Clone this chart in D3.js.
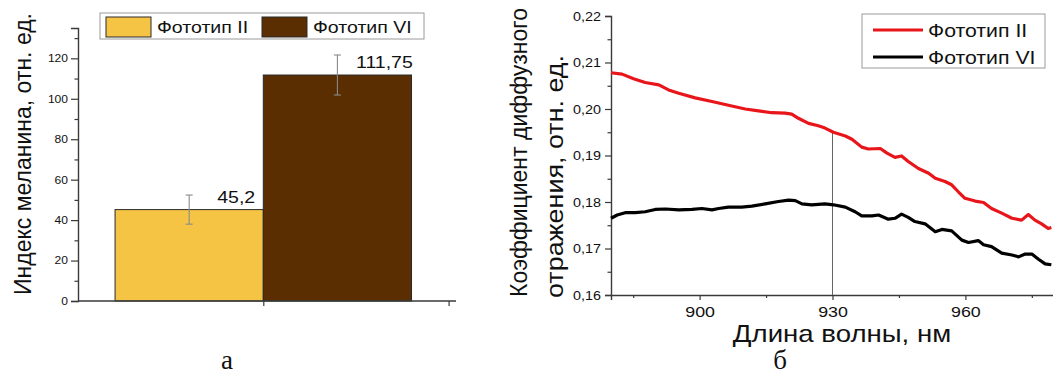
<!DOCTYPE html>
<html>
<head>
<meta charset="utf-8">
<script src="https://cdn.jsdelivr.net/npm/d3@7"></script>
<style>
  body { margin: 0; background: #fff; }
  svg { display: block; }
  text { font-family: "Liberation Sans", Arial, sans-serif; fill: #111; }
  text.letter { font-family: "Liberation Serif", "Times New Roman", serif; }
</style>
</head>
<body>
<svg id="chart" width="1053" height="376"></svg>
<script>
// ---- Panel "а": melanin index by phototype ----
const phototypes = ["Фототип II", "Фототип VI"];
const melaninIndex = [45.2, 111.75];
const melaninError = [7.2, 9.9];
const melaninLabels = ["45,2", "111,75"];
const melaninTicks = [0, 20, 40, 60, 80, 100, 120];
const melaninMinorTicks = [10, 30, 50, 70, 90, 110, 130];
const barColors = ["#f6c444", "#5a2e00"];

// ---- Panel "б": diffuse reflectance spectra ----
const redWavelength = [880.0, 882.5, 885.1, 887.7, 890.8, 893.0, 895.3, 899.0, 902.8, 906.5,
  910.3, 913.3, 916.3, 919.3, 920.8, 922.3, 924.6, 926.8, 928.3, 930.2, 932.9, 934.4, 936.6,
  938.1, 940.8, 942.3, 944.1, 945.6, 947.1, 949.4, 951.7, 953.2, 955.4, 956.9, 958.4, 959.9,
  962.2, 964.1, 965.9, 968.2, 970.5, 972.7, 974.2, 975.7, 977.2, 978.7, 979.4];
const redReflectance = [0.2078, 0.2075, 0.2065, 0.2057, 0.2052, 0.2041, 0.2034, 0.2024, 0.2016,
  0.2008, 0.2000, 0.1996, 0.1992, 0.1991, 0.1989, 0.1980, 0.1969, 0.1964, 0.1959, 0.1950,
  0.1942, 0.1935, 0.1918, 0.1914, 0.1915, 0.1905, 0.1896, 0.1899, 0.1887, 0.1872, 0.1862,
  0.1851, 0.1844, 0.1837, 0.1822, 0.1808, 0.1802, 0.1799, 0.1786, 0.1776, 0.1765, 0.1761,
  0.1773, 0.1761, 0.1753, 0.1743, 0.1745];
const blackWavelength = [880.0, 881.4, 883.2, 885.5, 887.7, 890.0, 892.3, 895.3, 898.3, 900.5,
  902.8, 904.3, 906.5, 909.5, 911.8, 914.8, 917.8, 920.1, 921.6, 923.1, 925.3, 928.3, 930.2,
  932.9, 935.1, 936.6, 938.9, 940.4, 942.6, 944.1, 945.6, 947.1, 948.6, 950.9, 953.2, 954.7,
  956.9, 959.2, 960.7, 962.9, 964.1, 965.9, 968.2, 970.5, 972.0, 973.5, 975.0, 976.5, 978.0, 979.4];
const blackReflectance = [0.1765, 0.1772, 0.1777, 0.1777, 0.1779, 0.1784, 0.1785, 0.1783, 0.1784,
  0.1786, 0.1783, 0.1786, 0.1789, 0.1789, 0.1791, 0.1796, 0.1801, 0.1804, 0.1803, 0.1796,
  0.1794, 0.1796, 0.1794, 0.1789, 0.1779, 0.1770, 0.1770, 0.1772, 0.1763, 0.1765, 0.1774,
  0.1767, 0.1758, 0.1753, 0.1736, 0.1741, 0.1738, 0.1718, 0.1713, 0.1717, 0.1708, 0.1704,
  0.1690, 0.1686, 0.1682, 0.1688, 0.1688, 0.1677, 0.1667, 0.1665];
const seriesNames = ["Фототип II", "Фототип VI"];
const seriesColors = ["#e8161b", "#000000"];
const reflectTicks = [0.16, 0.17, 0.18, 0.19, 0.20, 0.21, 0.22];
const reflectMinorTicks = [0.165, 0.175, 0.185, 0.195, 0.205, 0.215];
const wavelengthTicks = [900, 930, 960];
const wavelengthMinorTicks = [885, 915, 945, 975];
const markerWavelength = 930;

const SX = 1.15;           // horizontal glyph stretch
const AXIS = "#3a3a3a";
const svg = d3.select("#chart");

function styleAxis(g, fontSize) {
  g.select(".domain").attr("stroke", AXIS).attr("stroke-width", 1.4);
  g.selectAll(".tick line").attr("stroke", AXIS).attr("stroke-width", 1.2);
  g.selectAll(".tick text")
    .attr("font-size", fontSize)
    .attr("fill", "#222")
    .attr("font-family", "Liberation Sans, Arial, sans-serif")
    .each(function () {
      const t = d3.select(this);
      const x = +t.attr("x") || 0;
      t.attr("x", x / SX).attr("transform", `scale(${SX},1)`);
    });
}

function stretchedText(parent, x, y, str, size, anchor) {
  return parent.append("text")
    .attr("transform", `translate(${x},${y}) scale(${SX},1)`)
    .attr("text-anchor", anchor || "start")
    .attr("font-size", size)
    .text(str);
}

// ================= Panel а =================
const gA = svg.append("g");
const xA = d3.scaleLinear().domain([0, 2.04]).range([78, 456]);
const yA = d3.scaleLinear().domain([0, 135]).range([301, 28]);

// bars: two adjacent bars, each 0.8 wide, grouped around x = 1
gA.selectAll("rect.bar").data(melaninIndex).enter().append("rect")
  .attr("class", "bar")
  .attr("x", (d, i) => xA(0.2 + i * 0.8))
  .attr("width", xA(0.8) - xA(0))
  .attr("y", d => yA(d))
  .attr("height", d => yA(0) - yA(d))
  .attr("fill", (d, i) => barColors[i])
  .attr("stroke", "#2a2a2a")
  .attr("stroke-width", 1);

// error bars
const errG = gA.append("g").attr("stroke", "#8a8a8a").attr("stroke-width", 1.1);
melaninIndex.forEach((v, i) => {
  const cx = xA(0.6 + i * 0.8);
  errG.append("line").attr("x1", cx).attr("x2", cx)
    .attr("y1", yA(v + melaninError[i])).attr("y2", yA(v - melaninError[i]));
  [v + melaninError[i], v - melaninError[i]].forEach(e => {
    errG.append("line").attr("x1", cx - 3.5).attr("x2", cx + 3.5)
      .attr("y1", yA(e)).attr("y2", yA(e));
  });
});

// value labels
melaninIndex.forEach((v, i) => {
  stretchedText(gA, xA(0.6 + i * 0.8) + 47, yA(v) - 7, melaninLabels[i], 17, "middle");
});

// axes
const yAxisA = gA.append("g").attr("transform", `translate(${xA(0)},0)`)
  .call(d3.axisLeft(yA).tickValues(melaninTicks).tickSize(7).tickPadding(3)
    .tickFormat(d3.format("d")));
styleAxis(yAxisA, 10.5);
const yMinorA = gA.append("g").attr("transform", `translate(${xA(0)},0)`)
  .call(d3.axisLeft(yA).tickValues(melaninMinorTicks).tickSize(3.5).tickFormat(""));
yMinorA.select(".domain").remove();
styleAxis(yMinorA, 10);

const xAxisA = gA.append("g").attr("transform", `translate(0,${yA(0)})`)
  .call(d3.axisBottom(xA).tickValues([1, 2]).tickSize(5).tickFormat(""));
styleAxis(xAxisA, 10);
xAxisA.select(".domain").attr("d", `M${xA(0)},0H${xA(2.04)}`);

// y title
gA.append("text")
  .attr("transform", "translate(31,154) rotate(-90)")
  .attr("text-anchor", "middle")
  .attr("font-size", 24)
  .attr("textLength", 282)
  .attr("lengthAdjust", "spacingAndGlyphs")
  .text("Индекс меланина, отн. ед.");

// legend
const legA = gA.append("g");
legA.append("rect").attr("x", 100).attr("y", 13).attr("width", 324).attr("height", 26)
  .attr("fill", "#fff").attr("stroke", "#9a9a9a").attr("stroke-width", 1);
const legAx = [106, 262];
phototypes.forEach((name, i) => {
  legA.append("rect").attr("x", legAx[i]).attr("y", 17).attr("width", 45).attr("height", 20)
    .attr("fill", barColors[i]).attr("stroke", "#2a2a2a").attr("stroke-width", 1);
  stretchedText(legA, legAx[i] + 51, 33, name, 17, "start");
});

// panel letter
svg.append("text").attr("class", "letter").attr("x", 227).attr("y", 369)
  .attr("text-anchor", "middle").attr("font-size", 27).text("а");

// ================= Panel б =================
const gB = svg.append("g");
const xB = d3.scaleLinear().domain([880, 980]).range([611, 1054]);
const yB = d3.scaleLinear().domain([0.16, 0.22]).range([295, 16]);

const fmt2 = v => d3.format(".2f")(v).replace(".", ",");

const yAxisB = gB.append("g").attr("transform", `translate(${xB(880)},0)`)
  .call(d3.axisLeft(yB).tickValues(reflectTicks).tickSize(6).tickPadding(4).tickFormat(fmt2));
styleAxis(yAxisB, 12.5);
const yMinorB = gB.append("g").attr("transform", `translate(${xB(880)},0)`)
  .call(d3.axisLeft(yB).tickValues(reflectMinorTicks).tickSize(3.5).tickFormat(""));
yMinorB.select(".domain").remove();
styleAxis(yMinorB, 10);

const xAxisB = gB.append("g").attr("transform", `translate(0,${yB(0.16)})`)
  .call(d3.axisBottom(xB).tickValues(wavelengthTicks).tickSize(5).tickPadding(6).tickFormat(d3.format("d")));
styleAxis(xAxisB, 15.5);
const xMinorB = gB.append("g").attr("transform", `translate(0,${yB(0.16)})`)
  .call(d3.axisBottom(xB).tickValues(wavelengthMinorTicks).tickSize(3).tickFormat(""));
xMinorB.select(".domain").remove();
styleAxis(xMinorB, 10);

// marker line at 930 nm, up to the Фототип II curve
const i930 = d3.bisector(d => d).left(redWavelength, markerWavelength);
const w0 = redWavelength[i930 - 1], w1 = redWavelength[i930];
const r930 = d3.interpolateNumber(redReflectance[i930 - 1], redReflectance[i930])((markerWavelength - w0) / (w1 - w0));
gB.append("line")
  .attr("x1", xB(markerWavelength)).attr("x2", xB(markerWavelength))
  .attr("y1", yB(0.16)).attr("y2", yB(r930))
  .attr("stroke", "#555").attr("stroke-width", 0.9);

// spectra
const line = d3.line().x(d => xB(d[0])).y(d => yB(d[1])).curve(d3.curveLinear);
const spectra = [
  d3.zip(redWavelength, redReflectance),
  d3.zip(blackWavelength, blackReflectance)
];
gB.selectAll("path.spectrum").data(spectra).enter().append("path")
  .attr("class", "spectrum")
  .attr("d", line)
  .attr("fill", "none")
  .attr("stroke", (d, i) => seriesColors[i])
  .attr("stroke-width", 3.2)
  .attr("stroke-linejoin", "round");

// axis titles
stretchedText(gB, 842, 342, "Длина волны, нм", 24, "middle");
gB.append("text")
  .attr("transform", "translate(527,297) rotate(-90)")
  .attr("font-size", 23)
  .attr("textLength", 289)
  .attr("lengthAdjust", "spacingAndGlyphs")
  .text("Коэффициент диффузного");
gB.append("text")
  .attr("transform", "translate(563,298) rotate(-90)")
  .attr("font-size", 23)
  .attr("textLength", 243)
  .attr("lengthAdjust", "spacingAndGlyphs")
  .text("отражения, отн. ед.");

// legend
const legB = gB.append("g");
legB.append("rect").attr("x", 862).attr("y", 14).attr("width", 183).attr("height", 54)
  .attr("fill", "#fff").attr("stroke", "#9a9a9a").attr("stroke-width", 1);
const legBy = [30, 57];
seriesNames.forEach((name, i) => {
  legB.append("line").attr("x1", 873).attr("x2", 923).attr("y1", legBy[i]).attr("y2", legBy[i])
    .attr("stroke", seriesColors[i]).attr("stroke-width", 3.2);
  stretchedText(legB, 928, legBy[i] + 6.5, name, 18.5, "start");
});

// panel letter
svg.append("text").attr("class", "letter").attr("x", 780).attr("y", 369)
  .attr("text-anchor", "middle").attr("font-size", 27).text("б");
</script>
</body>
</html>
